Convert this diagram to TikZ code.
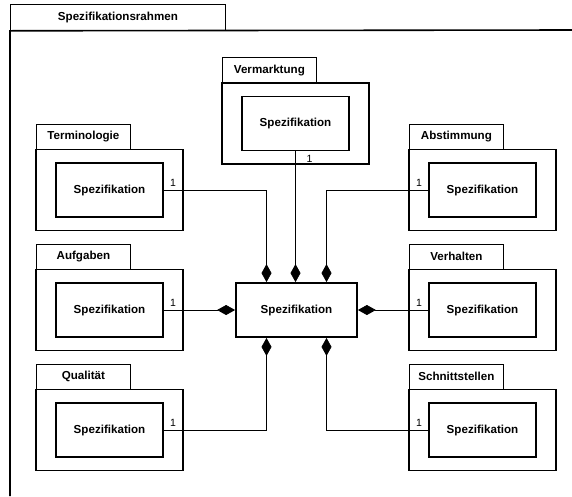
\documentclass[tikz,border=0pt]{standalone}
\usepackage{fontspec}
\setmainfont{Liberation Sans}
\usetikzlibrary{arrows.meta}
\begin{document}
\begin{tikzpicture}[x=1pt,y=-1pt,
  lbl/.style={font=\fontsize{11.6}{13}\selectfont\bfseries},
  tabbox/.style={draw, line width=0.8pt, minimum width=94pt, minimum height=25pt, inner sep=0pt, anchor=south west, lbl},
  pkgbody/.style={draw, line width=1.8pt, minimum width=147pt, minimum height=81pt, inner sep=0pt},
  spec/.style={draw, fill=white, line width=1.8pt, minimum width=107pt, minimum height=54pt, inner sep=0pt, lbl},
  conn/.style={line width=0.8pt},
  agg/.style={conn, -{Diamond[length=18pt,width=10pt]}},
  mult/.style={font=\fontsize{10.5}{12}\selectfont, inner sep=0pt}
]
\useasboundingbox (0,0) rectangle (572,496);
% outer frame
\node[draw, line width=0.8pt, minimum width=215pt, minimum height=26pt, inner sep=0pt, anchor=north west, lbl] (rahmen) at (10,4) {Spezifikationsrahmen};
\coordinate (frTR) at (572,30);
\coordinate (frBL) at (10,496);
\draw[line width=1.6pt] (frTR) -- (rahmen.south west) -- (frBL);

% packages: tab, body, inner spec
\newcommand{\pkg}[4]{%
  \node[tabbox] (#1tab) at (#2-73.5,#3-40.5) {#4};
  \node[pkgbody] (#1body) at (#2,#3) {};
  \node[spec] (#1) at (#2,#3) {Spezifikation};
}
\pkg{verm}{295.5}{123.5}{Vermarktung}
\pkg{term}{109.5}{190}{Terminologie}
\pkg{aufg}{109.5}{310}{Aufgaben}
\pkg{qual}{109.5}{430}{Qualität}
\pkg{abst}{482.5}{190}{Abstimmung}
\pkg{verh}{482.5}{310}{Verhalten}
\pkg{schn}{482.5}{430}{Schnittstellen}

% central specification
\node[spec, minimum width=121pt] (center) at (296.5,310) {Spezifikation};

% connectors
\draw[agg] (verm.south) -- (verm.south |- center.north);
\draw[agg] (term.east) -| ([xshift=-30pt]center.north);
\draw[agg] (abst.west) -| ([xshift=30pt]center.north);
\draw[agg] (aufg.east) -- (center.west);
\draw[agg] (verh.west) -- (center.east);
\draw[agg] (qual.east) -| ([xshift=-30pt]center.south);
\draw[agg] (schn.west) -| ([xshift=30pt]center.south);

% multiplicities
\node[mult, anchor=base west] (mverm) at ([xshift=11pt,yshift=-11pt]verm.south) {1};
\node[mult, anchor=base west] (mterm) at ([xshift=6pt,yshift=3.5pt]term.east) {1};
\node[mult, anchor=base west] (maufg) at ([xshift=6pt,yshift=3.5pt]aufg.east) {1};
\node[mult, anchor=base west] (mqual) at ([xshift=6pt,yshift=3.5pt]qual.east) {1};
\node[mult, anchor=base east] (mabst) at ([xshift=-6pt,yshift=3.5pt]abst.west) {1};
\node[mult, anchor=base east] (mverh) at ([xshift=-6pt,yshift=3.5pt]verh.west) {1};
\node[mult, anchor=base east] (mschn) at ([xshift=-6pt,yshift=3.5pt]schn.west) {1};
\end{tikzpicture}
\end{document}
